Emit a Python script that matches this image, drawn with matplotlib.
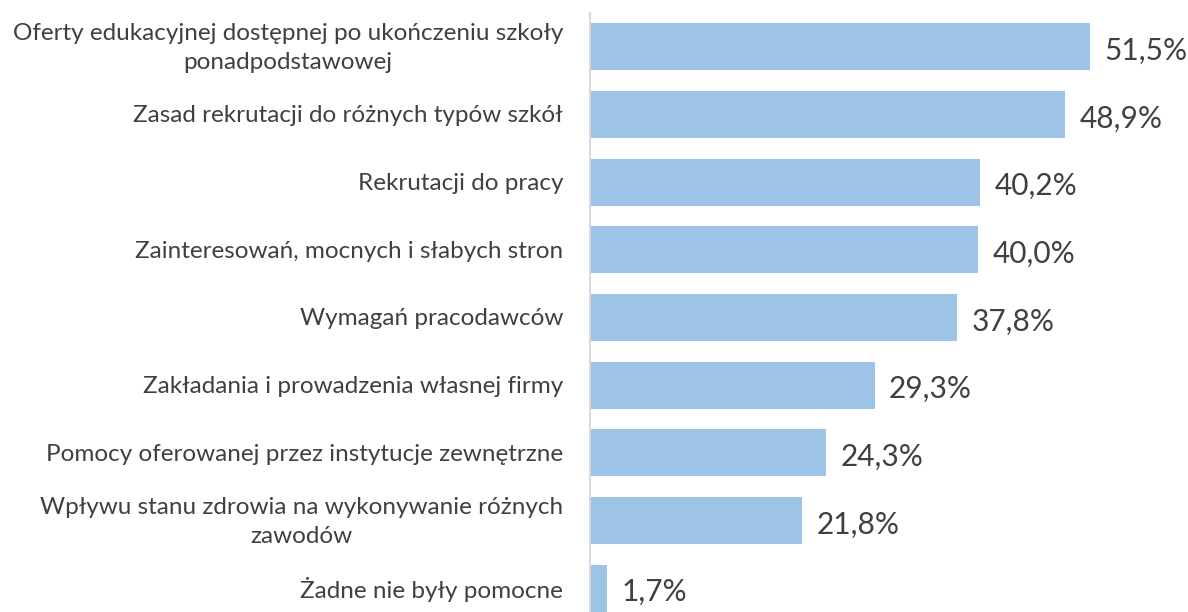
import numpy as np
import matplotlib.pyplot as plt

plt.rcParams['font.family'] = ['Lato', 'DejaVu Sans']

categories = [
    "Oferty edukacyjnej dostępnej po ukończeniu szkoły\nponadpodstawowej",
    "Zasad rekrutacji do różnych typów szkół",
    "Rekrutacji do pracy",
    "Zainteresowań, mocnych i słabych stron",
    "Wymagań pracodawców",
    "Zakładania i prowadzenia własnej firmy",
    "Pomocy oferowanej przez instytucje zewnętrzne",
    "Wpływu stanu zdrowia na wykonywanie różnych\nzawodów",
    "Żadne nie były pomocne",
]
values = [51.5, 48.9, 40.2, 40.0, 37.8, 29.3, 24.3, 21.8, 1.7]
value_labels = ["51,5%", "48,9%", "40,2%", "40,0%", "37,8%", "29,3%", "24,3%", "21,8%", "1,7%"]

bar_color = "#9DC3E6"
text_color = "#404040"

fig = plt.figure(figsize=(11.88, 6.12), dpi=100)
# axes placed in pixel terms: left edge at x=590, bars centred from y=47 to y=588
ax = fig.add_axes([590 / 1188, -10 / 612, 590 / 1188, 609 / 612])

y = np.arange(len(categories))
ax.barh(y, values, height=0.69, color=bar_color, zorder=2)

for yi, v, lab in zip(y, values, value_labels):
    ax.text(v + 1.5, yi + 0.06, lab, va="center", ha="left",
            fontsize=21.5, color=text_color)

# category labels: right aligned, multi-line ones centred
for yi, cat in zip(y, categories):
    ax.text(-27 / 590, yi + 0.02, cat, transform=ax.get_yaxis_transform(),
            ha="right", va="center", multialignment="center",
            fontsize=17.5, color=text_color, linespacing=1.5)

ax.set_xlim(0, 60.76)
ax.set_ylim(8.5, -0.5)
ax.set_yticks([])
ax.set_xticks([])

for s in ["top", "right", "bottom"]:
    ax.spines[s].set_visible(False)
ax.spines["left"].set_color("#D9D9D9")
ax.spines["left"].set_linewidth(1.5)

fig.savefig("out.png", dpi=100)
